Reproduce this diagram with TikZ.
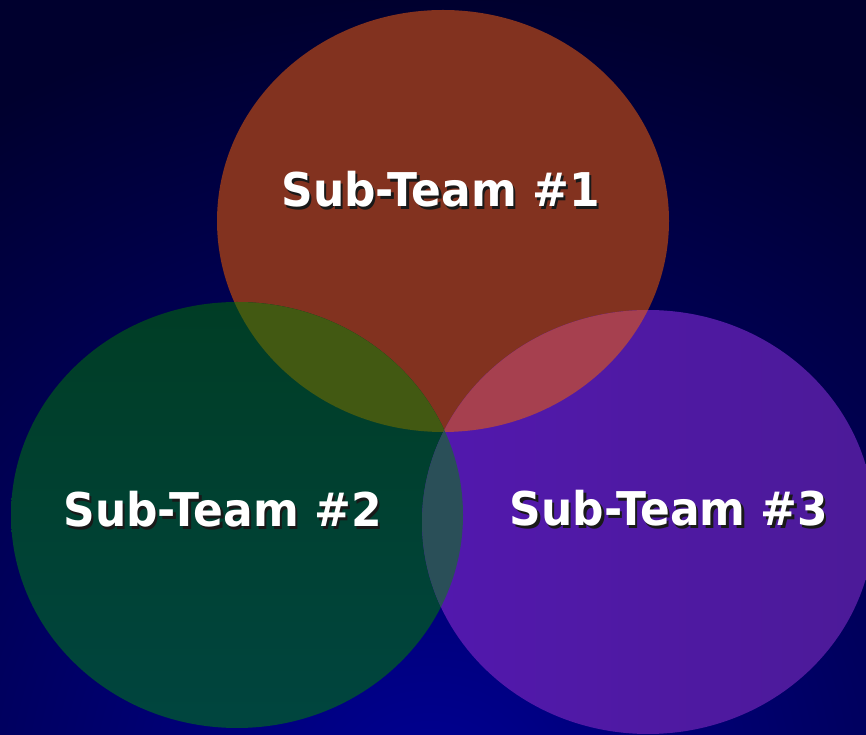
\documentclass[tikz,border=0pt]{standalone}
\usepackage{fontspec}
\newfontfamily\teamfont{DejaVu Sans}
\definecolor{bgout}{HTML}{00002E}
\definecolor{bgin}{HTML}{000094}
\definecolor{redc}{HTML}{82321F}
\definecolor{greenA}{HTML}{003D25}
\definecolor{greenB}{HTML}{00453F}
\definecolor{purA}{HTML}{5218AE}
\definecolor{purB}{HTML}{4C1A98}
\definecolor{rg}{HTML}{425912}
\definecolor{rp}{HTML}{A6404F}
\definecolor{gp}{HTML}{2A4F58}
\newcommand{\teamlabel}[1]{\scalebox{0.945}[1]{\makebox[0pt][l]{\hspace{2.6pt}\raisebox{-2.6pt}{\color{black!90}#1}}#1}}
\tikzset{
  label text/.style={font=\teamfont\bfseries\fontsize{46.5}{50}\selectfont, text=white, anchor=base, inner sep=0pt}
}
\begin{document}
\begin{tikzpicture}[x=1pt,y=1pt]
\useasboundingbox (0,0) rectangle (866,735);
\fill[bgout] (0,0) rectangle (866,735);
\begin{scope}
\clip (0,0) rectangle (866,735);
\shade[inner color=bgin, outer color=bgout] (430,-60) ellipse [x radius=850, y radius=800];
\end{scope}
% ellipses
\def\redE{(443,514) ellipse [x radius=226, y radius=211]}
\def\greenE{(237,220) ellipse [x radius=226, y radius=213]}
\def\purE{(648,213) ellipse [x radius=226, y radius=212]}
\begin{scope}
\clip (0,0) rectangle (866,735);
\fill[redc] \redE;
\shade[top color=greenA, bottom color=greenB] \greenE;
\shade[left color=purA, right color=purB] \purE;
\begin{scope}
\clip \redE;
\fill[rg] \greenE;
\fill[rp] \purE;
\end{scope}
\begin{scope}
\clip \greenE;
\fill[gp] \purE;
\end{scope}
\end{scope}
% labels
\node[label text] (t1) at (440.5,528) {\teamlabel{Sub-Team \#1}};
\node[label text] (t2) at (222.5,208) {\teamlabel{Sub-Team \#2}};
\node[label text] (t3) at (669,209) {\teamlabel{Sub-Team \#3}};
\end{tikzpicture}
\end{document}
